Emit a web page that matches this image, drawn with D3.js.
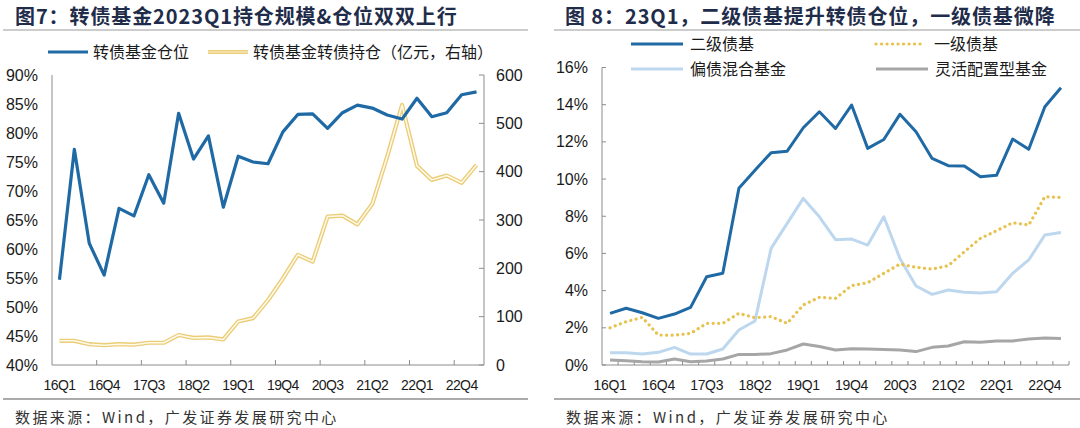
<!DOCTYPE html>
<html><head><meta charset="utf-8">
<script src="https://cdn.jsdelivr.net/npm/d3@7"></script>
<style>
html,body{margin:0;padding:0;background:#fff;}
svg{display:block;}
text{font-family:"Liberation Sans",Arial,sans-serif;}
.cjk{font-family:"Noto Sans CJK SC","Noto Sans",sans-serif;}
</style></head><body>
<svg id="c" width="1080" height="428"></svg>
<script>
// ---------- data ----------
const quarters = ["16Q1","16Q2","16Q3","16Q4","17Q1","17Q2","17Q3","17Q4","18Q1","18Q2","18Q3","18Q4",
  "19Q1","19Q2","19Q3","19Q4","20Q1","20Q2","20Q3","20Q4","21Q1","21Q2","21Q3","21Q4",
  "22Q1","22Q2","22Q3","22Q4","23Q1"];
const xTickLabels = ["16Q1","16Q4","17Q3","18Q2","19Q1","19Q4","20Q3","21Q2","22Q1","22Q4"];

// Figure 7
const fundPosition = [54.7,77.2,61.0,55.5,67.0,65.7,72.8,67.9,83.4,75.5,79.5,67.2,
  76.0,75.0,74.7,80.2,83.2,83.3,80.8,83.5,84.8,84.3,83.1,82.4,86.0,82.8,83.5,86.6,87.1];
const fundHolding = [50,50,43,41,43,42,46,46,62,56,57,53,
  90,97,134,179,228,214,307,309,291,333,431,538,412,383,392,377,414];
const leftTicks = [40,45,50,55,60,65,70,75,80,85,90];
const rightTicks = [0,100,200,300,400,500,600];

// Figure 8
const secondaryBond = [2.78,3.05,2.81,2.51,2.74,3.10,4.75,4.93,9.50,10.48,11.42,11.50,
  12.76,13.62,12.72,13.98,11.65,12.13,13.48,12.54,11.11,10.72,10.70,10.13,10.20,12.15,11.60,13.89,14.91];
const primaryBond = [2.00,2.33,2.56,1.61,1.60,1.70,2.24,2.24,2.78,2.54,2.60,2.24,
  3.23,3.64,3.58,4.27,4.43,4.93,5.43,5.25,5.16,5.34,6.09,6.81,7.22,7.65,7.53,9.05,9.01];
const bondHybrid = [0.66,0.66,0.59,0.68,0.95,0.59,0.59,0.86,1.88,2.37,6.27,7.62,
  8.96,7.97,6.74,6.77,6.45,7.97,5.73,4.25,3.80,4.03,3.91,3.87,3.94,4.93,5.65,6.99,7.13];
const flexible = [0.27,0.23,0.18,0.16,0.32,0.18,0.22,0.32,0.57,0.56,0.61,0.81,
  1.13,0.99,0.81,0.88,0.86,0.84,0.81,0.72,0.95,1.02,1.25,1.22,1.29,1.29,1.40,1.45,1.43];
const pctTicks = [0,2,4,6,8,10,12,14,16];

// ---------- styles ----------
const C = {blue:"#1f6aa5", yellowOuter:"#ebcd77", yellowInner:"#fffaea", light:"#bdd7ee",
  gray:"#a6a6a6", dot:"#e8c24e", axis:"#8c8c8c", text:"#1a1a1a", title:"#1f2d4a", rule:"#595959"};

const svg = d3.select("#c");

function hline(x1,x2,y,color,w){svg.append("line").attr("x1",x1).attr("x2",x2).attr("y1",y).attr("y2",y)
  .attr("stroke",color).attr("stroke-width",w);}

// titles
svg.append("text").attr("class","cjk").attr("x",15).attr("y",24).attr("font-size",20).attr("font-weight",700)
  .attr("letter-spacing",0.9).attr("fill",C.title).text("图7：转债基金2023Q1持仓规模&仓位双双上行");
svg.append("text").attr("class","cjk").attr("x",565).attr("y",24).attr("font-size",20).attr("font-weight",700)
  .attr("letter-spacing",0.9).attr("fill",C.title).text("图 8：23Q1，二级债基提升转债仓位，一级债基微降");
hline(3,528,30,"#9a9a9a",1);
hline(554,1080,30,"#9a9a9a",1);
hline(3,528,399,C.rule,1.2);
hline(554,1080,399,C.rule,1.2);
svg.append("text").attr("class","cjk").attr("x",15).attr("y",423).attr("font-size",15).attr("letter-spacing",2.4).attr("fill","#333")
  .text("数据来源：Wind，广发证券发展研究中心");
svg.append("text").attr("class","cjk").attr("x",566).attr("y",423).attr("font-size",15).attr("letter-spacing",2.4).attr("fill","#333")
  .text("数据来源：Wind，广发证券发展研究中心");

// ---------- Figure 7 ----------
{
  const x = d3.scaleBand().domain(quarters).range([52,484]);
  const cx = q => x(q) + x.bandwidth()/2;
  const yL = d3.scaleLinear().domain([40,90]).range([365,75]);
  const yR = d3.scaleLinear().domain([0,600]).range([365,75]);
  const g = svg.append("g");

  const ax = g.append("g").attr("stroke",C.axis).attr("stroke-width",1);
  ax.append("line").attr("x1",52).attr("x2",52).attr("y1",yL(90)).attr("y2",yL(40));
  ax.append("line").attr("x1",484).attr("x2",484).attr("y1",yR(600)).attr("y2",yR(0));
  ax.append("line").attr("x1",52).attr("x2",484).attr("y1",365).attr("y2",365);
  quarters.forEach((q,i)=>{ if(i>0 && i%3===0){ ax.append("line").attr("x1",x(q)).attr("x2",x(q)).attr("y1",365).attr("y2",360);} });
  rightTicks.forEach(t=>{ ax.append("line").attr("x1",484).attr("x2",479).attr("y1",yR(t)).attr("y2",yR(t)); });

  g.selectAll(".yl").data(leftTicks).join("text").attr("x",38).attr("y",d=>yL(d)+5.5)
    .attr("text-anchor","end").attr("font-size",16).attr("fill",C.text).text(d=>d+"%");
  g.selectAll(".yr").data(rightTicks).join("text").attr("x",496).attr("y",d=>yR(d)+5.5)
    .attr("font-size",16).attr("fill",C.text).text(d=>d);
  g.selectAll(".xl").data(xTickLabels).join("text").attr("x",d=>cx(d)).attr("y",390)
    .attr("text-anchor","middle").attr("font-size",14).attr("letter-spacing",-0.6).attr("fill",C.text).text(d=>d);

  const lineL = d3.line().x((d,i)=>cx(quarters[i])).y(d=>yL(d));
  const lineR = d3.line().x((d,i)=>cx(quarters[i])).y(d=>yR(d));
  g.append("path").attr("d",lineR(fundHolding)).attr("fill","none").attr("stroke",C.yellowOuter).attr("stroke-width",4.2).attr("stroke-linejoin","round");
  g.append("path").attr("d",lineR(fundHolding)).attr("fill","none").attr("stroke",C.yellowInner).attr("stroke-width",1.5).attr("stroke-linejoin","round");
  g.append("path").attr("d",lineL(fundPosition)).attr("fill","none").attr("stroke",C.blue).attr("stroke-width",3.2).attr("stroke-linejoin","round");

  const ly = 52;
  g.append("line").attr("x1",48).attr("x2",88).attr("y1",ly).attr("y2",ly).attr("stroke",C.blue).attr("stroke-width",3.2);
  g.append("text").attr("class","cjk").attr("x",93).attr("y",ly+5.5).attr("font-size",16).attr("fill",C.text).text("转债基金仓位");
  g.append("line").attr("x1",208).attr("x2",248).attr("y1",ly).attr("y2",ly).attr("stroke",C.yellowOuter).attr("stroke-width",4.2);
  g.append("line").attr("x1",208).attr("x2",248).attr("y1",ly).attr("y2",ly).attr("stroke","#f6e6b4").attr("stroke-width",1.5);
  g.append("text").attr("class","cjk").attr("x",253).attr("y",ly+5.5).attr("font-size",16).attr("fill",C.text).text("转债基金转债持仓（亿元，右轴）");
}

// ---------- Figure 8 ----------
{
  const x = d3.scaleBand().domain(quarters).range([602,1069]);
  const cx = q => x(q) + x.bandwidth()/2;
  const y = d3.scaleLinear().domain([0,16]).range([365,67.5]);
  const g = svg.append("g");

  const ax = g.append("g").attr("stroke",C.axis).attr("stroke-width",1);
  ax.append("line").attr("x1",602).attr("x2",602).attr("y1",y(16)).attr("y2",y(0));
  ax.append("line").attr("x1",602).attr("x2",1069).attr("y1",365).attr("y2",365);
  pctTicks.forEach(t=>{ ax.append("line").attr("x1",602).attr("x2",606).attr("y1",y(t)).attr("y2",y(t)); });
  quarters.forEach((q,i)=>{ if(i>0){ ax.append("line").attr("x1",x(q)).attr("x2",x(q)).attr("y1",365).attr("y2",361);} });
  ax.append("line").attr("x1",1069).attr("x2",1069).attr("y1",365).attr("y2",361);

  g.selectAll(".yl").data(pctTicks).join("text").attr("x",588).attr("y",d=>y(d)+5.5)
    .attr("text-anchor","end").attr("font-size",16).attr("fill",C.text).text(d=>d+"%");
  g.selectAll(".xl").data(xTickLabels).join("text").attr("x",d=>cx(d)).attr("y",390)
    .attr("text-anchor","middle").attr("font-size",14).attr("letter-spacing",-0.3).attr("fill",C.text).text(d=>d);

  const line = d3.line().x((d,i)=>cx(quarters[i])).y(d=>y(d));
  g.append("path").attr("d",line(flexible)).attr("fill","none").attr("stroke",C.gray).attr("stroke-width",3).attr("stroke-linejoin","round");
  g.append("path").attr("d",line(bondHybrid)).attr("fill","none").attr("stroke",C.light).attr("stroke-width",3).attr("stroke-linejoin","round");
  g.append("path").attr("d",line(primaryBond)).attr("fill","none").attr("stroke",C.dot).attr("stroke-width",3.2)
    .attr("stroke-linecap","round").attr("stroke-dasharray","0.1 5.4");
  g.append("path").attr("d",line(secondaryBond)).attr("fill","none").attr("stroke",C.blue).attr("stroke-width",3).attr("stroke-linejoin","round");

  const items = [
    {name:"二级债基", color:C.blue, x:631, y:44, dash:null},
    {name:"一级债基", color:C.dot, x:876, y:44, dash:"0.1 5.4"},
    {name:"偏债混合基金", color:C.light, x:631, y:69, dash:null},
    {name:"灵活配置型基金", color:C.gray, x:876, y:69, dash:null}
  ];
  items.forEach(it=>{
    const l = g.append("line").attr("x1",it.x).attr("x2",it.x+(it.dash?46:52)).attr("y1",it.y).attr("y2",it.y)
      .attr("stroke",it.color).attr("stroke-width",3);
    if(it.dash) l.attr("stroke-dasharray",it.dash).attr("stroke-linecap","round").attr("stroke-width",3.2);
    g.append("text").attr("class","cjk").attr("x",it.x+(it.dash?58:59)).attr("y",it.y+5.5).attr("font-size",16)
      .attr("fill",C.text).text(it.name);
  });
}
</script>
</body></html>
